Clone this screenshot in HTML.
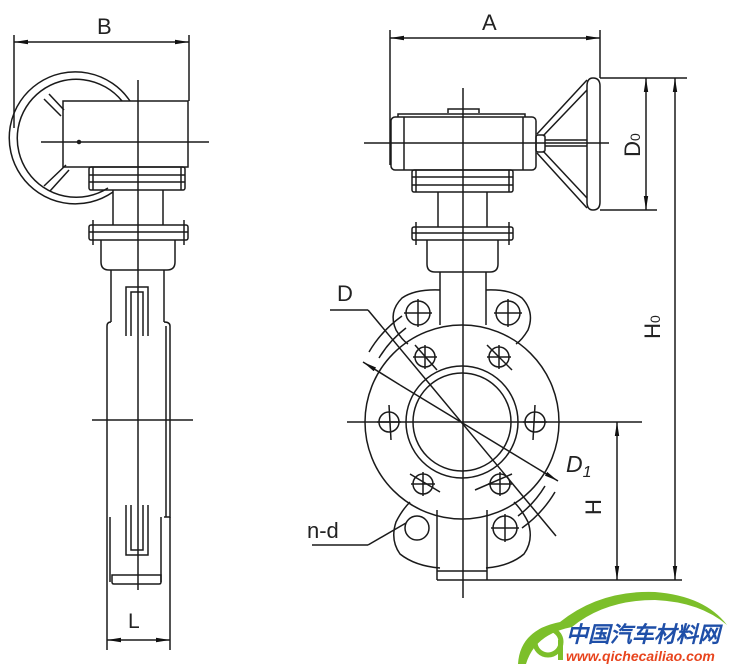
<!DOCTYPE html>
<html><head><meta charset="utf-8"><style>
html,body{margin:0;padding:0;background:#fff}
svg{display:block}
text{font-family:"Liberation Sans",sans-serif;fill:#222}
</style></head><body>
<svg width="737" height="669" viewBox="0 0 737 669" xmlns="http://www.w3.org/2000/svg">
<defs>
<marker id="ar" viewBox="0 0 14 6" refX="14" refY="3" markerWidth="14" markerHeight="6" orient="auto" markerUnits="userSpaceOnUse"><path d="M0,0.8 L14,3 L0,5.2 z" fill="#111"/></marker>
</defs>
<g fill="none" stroke="#1a1a1a" stroke-width="1.5">
<!-- ===== LEFT VIEW ===== -->
<line x1="14" y1="35" x2="14" y2="128"/>
<line x1="189" y1="35" x2="189" y2="101"/>
<line x1="45" y1="42" x2="14" y2="42" marker-end="url(#ar)"/>
<line x1="45" y1="42" x2="158" y2="42"/>
<line x1="158" y1="42" x2="189" y2="42" marker-end="url(#ar)"/>
<path d="M130,101 A66,66 0 1 0 113,192"/>
<path d="M122,101 A59,59 0 1 0 108,188"/>
<line x1="44" y1="99" x2="61" y2="116"/><line x1="49" y1="94" x2="64" y2="110"/>
<line x1="44" y1="186" x2="66" y2="165"/><line x1="50" y1="191" x2="69" y2="170"/>
<rect x="63" y="101" width="125" height="66"/>
<line x1="41" y1="142" x2="209" y2="142"/>
<circle cx="79" cy="142" r="1.5" fill="#222"/>
<line x1="138" y1="80" x2="138" y2="590"/>
<rect x="89" y="167" width="96" height="23" rx="2"/>
<line x1="89" y1="175" x2="185" y2="175"/><line x1="89" y1="182" x2="185" y2="182"/>
<line x1="93" y1="167" x2="93" y2="190"/><line x1="181" y1="167" x2="181" y2="190"/>
<line x1="113" y1="190" x2="113" y2="225"/><line x1="163" y1="190" x2="163" y2="225"/>
<rect x="89" y="225" width="99" height="15" rx="2"/>
<line x1="89" y1="232" x2="188" y2="232"/>
<line x1="93" y1="220" x2="93" y2="245"/><line x1="184" y1="220" x2="184" y2="245"/>
<path d="M101,240 V262 Q101,270 109,270 H167 Q175,270 175,262 V240"/>
<line x1="111" y1="270" x2="111" y2="322"/><line x1="164" y1="270" x2="164" y2="322"/>
<path d="M111,322 Q107,322 107,326 V650"/>
<path d="M164,322 Q170,322 170,326 V517 H164"/>
<line x1="166" y1="326" x2="166" y2="517"/>
<line x1="161" y1="517" x2="161" y2="582"/><line x1="110" y1="517" x2="110" y2="582"/>
<line x1="170" y1="517" x2="170" y2="650"/>
<path d="M126,336 V287 H148 V336"/><path d="M131,336 V292 H143 V336"/>
<path d="M126,505 V555 H148 V505"/><path d="M131,505 V550 H143 V505"/>
<path d="M112,575 V582 Q112,584 114,584 H159 Q161,584 161,582 V575 Z"/>
<line x1="92" y1="420" x2="193" y2="420"/>
<line x1="122" y1="640" x2="107" y2="640" marker-end="url(#ar)"/>
<line x1="155" y1="640" x2="170" y2="640" marker-end="url(#ar)"/>
<line x1="122" y1="640" x2="155" y2="640"/>
<!-- ===== RIGHT VIEW ===== -->
<line x1="390" y1="30" x2="390" y2="165"/>
<line x1="600" y1="30" x2="600" y2="78"/>
<line x1="420" y1="38" x2="390" y2="38" marker-end="url(#ar)"/>
<line x1="420" y1="38" x2="570" y2="38"/>
<line x1="570" y1="38" x2="600" y2="38" marker-end="url(#ar)"/>
<line x1="463" y1="88" x2="463" y2="598"/>
<rect x="391" y="117" width="145" height="53" rx="4"/>
<line x1="404" y1="117" x2="404" y2="170"/><line x1="523" y1="117" x2="523" y2="170"/>
<path d="M398,117 V114 H525 V117"/>
<path d="M448,113 V109 H479 V113"/>
<line x1="364" y1="143" x2="609" y2="143"/>
<rect x="536" y="135" width="9" height="17" rx="2"/>
<line x1="537" y1="134" x2="587" y2="80"/><line x1="543" y1="136" x2="587" y2="90"/>
<line x1="537" y1="153" x2="587" y2="208"/><line x1="543" y1="151" x2="587" y2="198"/>
<line x1="545" y1="140" x2="587" y2="140"/><line x1="545" y1="146" x2="587" y2="146"/>
<path d="M593,78 Q587,78 587,86 V202 Q587,210 593,210 Q600,210 600,202 V86 Q600,78 593,78 Z"/>
<line x1="600" y1="78" x2="687" y2="78"/>
<line x1="600" y1="210" x2="657" y2="210"/>
<line x1="646" y1="110" x2="646" y2="78" marker-end="url(#ar)"/>
<line x1="646" y1="110" x2="646" y2="178"/>
<line x1="646" y1="178" x2="646" y2="210" marker-end="url(#ar)"/>
<line x1="675" y1="110" x2="675" y2="78" marker-end="url(#ar)"/>
<line x1="675" y1="110" x2="675" y2="550"/>
<line x1="675" y1="550" x2="675" y2="580" marker-end="url(#ar)"/>
<rect x="412" y="170" width="101" height="22" rx="2"/>
<line x1="412" y1="177" x2="513" y2="177"/><line x1="412" y1="185" x2="513" y2="185"/>
<line x1="416" y1="170" x2="416" y2="192"/><line x1="509" y1="170" x2="509" y2="192"/>
<line x1="438" y1="192" x2="438" y2="227"/><line x1="487" y1="192" x2="487" y2="227"/>
<rect x="412" y="227" width="101" height="13" rx="2"/>
<line x1="412" y1="233" x2="513" y2="233"/>
<line x1="416" y1="222" x2="416" y2="245"/><line x1="509" y1="222" x2="509" y2="245"/>
<path d="M427,240 V264 Q427,272 435,272 H490 Q498,272 498,264 V240"/>
<line x1="440" y1="272" x2="440" y2="325"/><line x1="486" y1="272" x2="486" y2="325"/>
<circle cx="462" cy="422" r="97"/>
<circle cx="462" cy="422" r="56"/>
<circle cx="462" cy="422" r="49"/>
<path d="M440,290 Q415,289 402,298 Q388,312 396,330 Q402,340 408,344"/>
<path d="M486,290 Q510,289 522,298 Q535,312 528,330 Q522,340 516,344"/>
<path d="M440,568 Q415,566 400,554 Q390,540 396,522 Q402,510 410,502"/>
<path d="M486,568 Q510,566 524,554 Q534,540 528,522 Q522,510 514,502"/>
<line x1="437" y1="510" x2="437" y2="580"/><line x1="487" y1="510" x2="487" y2="580"/>
<line x1="437" y1="571" x2="487" y2="571"/>
<line x1="437" y1="580" x2="682" y2="580"/>
<circle cx="418" cy="313" r="12"/><circle cx="508" cy="313" r="12"/>
<circle cx="417" cy="528" r="12"/><circle cx="505" cy="528" r="12"/>
<line x1="404" y1="313" x2="432" y2="313"/><line x1="418" y1="299" x2="418" y2="327"/>
<line x1="494" y1="313" x2="522" y2="313"/><line x1="508" y1="299" x2="508" y2="327"/>
<line x1="491" y1="528" x2="519" y2="528"/><line x1="505" y1="514" x2="505" y2="542"/>
<circle cx="535" cy="422" r="10"/><line x1="523" y1="422" x2="547" y2="422"/><line x1="535" y1="405" x2="533" y2="440"/>
<circle cx="389" cy="422" r="10"/><line x1="377" y1="422" x2="401" y2="422"/><line x1="389" y1="405" x2="391" y2="440"/>
<circle cx="425" cy="357" r="10"/><line x1="413" y1="357" x2="437" y2="357"/><line x1="425" y1="345" x2="425" y2="369"/><line x1="415" y1="345" x2="437" y2="370"/>
<circle cx="499" cy="357" r="10"/><line x1="487" y1="357" x2="511" y2="357"/><line x1="499" y1="345" x2="499" y2="369"/><line x1="487" y1="345" x2="512" y2="370"/>
<circle cx="423" cy="484" r="10"/><line x1="411" y1="484" x2="435" y2="484"/><line x1="423" y1="472" x2="423" y2="496"/><line x1="410" y1="474" x2="440" y2="492"/>
<circle cx="500" cy="484" r="10"/><line x1="488" y1="484" x2="512" y2="484"/><line x1="500" y1="472" x2="500" y2="496"/><line x1="475" y1="490" x2="512" y2="474"/>
<line x1="347" y1="422" x2="642" y2="422"/>
<path d="M369,352 A118,118 0 0 1 402,316"/>
<path d="M379,358 A106,106 0 0 1 406,328"/>
<path d="M555,492 A118,118 0 0 1 522,528"/>
<path d="M545,486 A106,106 0 0 1 518,516"/>
<line x1="330" y1="310" x2="368" y2="310"/>
<line x1="368" y1="310" x2="556" y2="536"/>
<line x1="400" y1="385" x2="363" y2="362" marker-end="url(#ar)"/>
<line x1="400" y1="385" x2="530" y2="464"/>
<line x1="530" y1="464" x2="558" y2="481" marker-end="url(#ar)"/>
<line x1="312" y1="545" x2="368" y2="545"/>
<line x1="368" y1="545" x2="406" y2="523"/>
<line x1="617" y1="452" x2="617" y2="422" marker-end="url(#ar)"/>
<line x1="617" y1="452" x2="617" y2="550"/>
<line x1="617" y1="550" x2="617" y2="580" marker-end="url(#ar)"/>
</g>
<text x="97" y="34" font-size="22">B</text>
<text x="482" y="30" font-size="22">A</text>
<text x="128" y="628" font-size="21">L</text>
<text x="337" y="301" font-size="22">D</text>
<text x="566" y="472" font-size="23" font-style="italic">D<tspan font-size="16" dy="5">1</tspan></text>
<text x="307" y="538" font-size="22">n-d</text>
<text transform="translate(640,145) rotate(-90)" text-anchor="middle" font-size="22">D<tspan font-size="14">0</tspan></text>
<text transform="translate(660,327) rotate(-90)" text-anchor="middle" font-size="22">H<tspan font-size="14">0</tspan></text>
<text transform="translate(601,507) rotate(-90)" text-anchor="middle" font-size="22">H</text>
<path d="M518,664 Q520,630 560,622 Q600,590 655,592 Q705,596 727,625 Q700,602 655,600 Q605,600 572,627 Q535,634 526,664 Z" fill="#7cbf2a"/>
<circle cx="548" cy="642" r="13" fill="none" stroke="#7cbf2a" stroke-width="5"/>
<rect x="558" y="640" width="5" height="20" fill="#7cbf2a"/>
<text x="566" y="642" font-family="'Noto Sans CJK SC',sans-serif" font-size="22" font-weight="bold" font-style="italic" style="fill:#1f4fa8">中国汽车材料网</text>
<text x="566" y="661" font-size="14" font-weight="bold" font-style="italic" style="fill:#e8451e">www.qichecailiao.com</text>
</svg>
</body></html>
